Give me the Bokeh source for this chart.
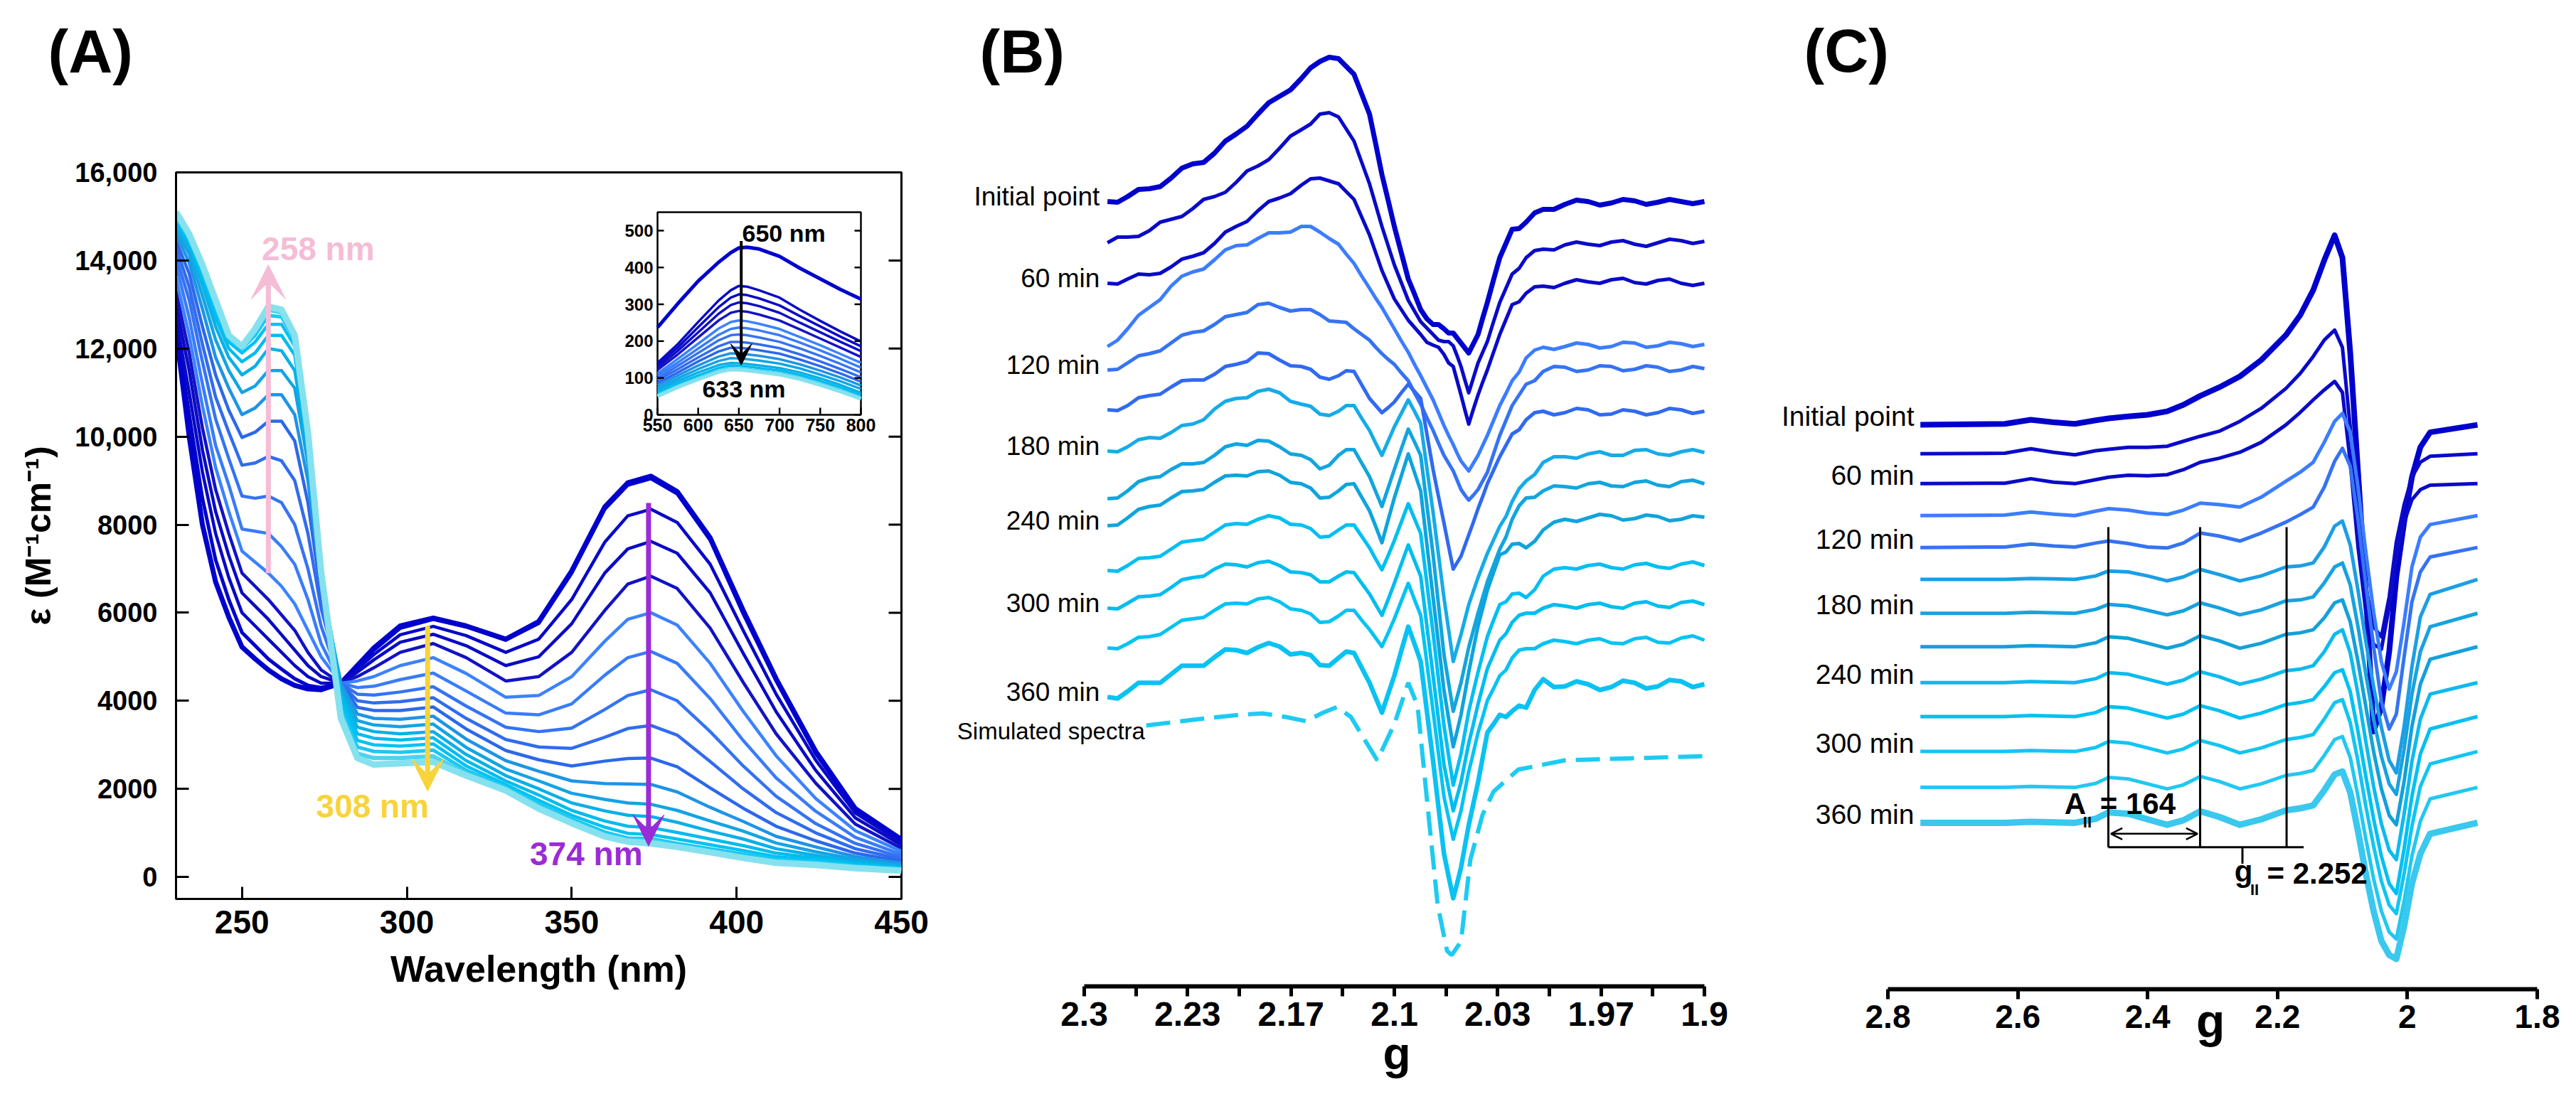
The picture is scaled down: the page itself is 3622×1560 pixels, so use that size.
from bokeh.plotting import figure
from bokeh.layouts import row, column
from bokeh.models import (Range1d, FixedTicker, CustomJSTickFormatter,
                          Label, Arrow, VeeHead, OpenHead)
from bokeh.embed import file_html
from bokeh.resources import INLINE
from bokeh.core.properties import value

FONT = "Liberation Sans"

# ======================= Panel A : UV-vis spectra =======================
wavelength_nm = [230, 234, 238, 242, 246, 250, 254, 258, 262, 266, 270, 274, 280, 285, 290,
                 298, 308, 318, 330, 340, 350, 360, 367, 374, 382, 392, 402, 412, 424, 436, 450]
# epsilon (M-1 cm-1) at each wavelength for the 18 successive spectra (first -> last)
eps_230 = [12400, 12500, 12700, 13000, 13300, 13600, 13900, 14100, 14300, 14450, 14600, 14700, 14800, 14900, 14950, 15000, 15050, 15100]
eps_234 = [10000, 10500, 11000, 11500, 11900, 12300, 12700, 13100, 13400, 13700, 13950, 14150, 14300, 14400, 14450, 14500, 14550, 14600]
eps_238 = [8000, 8600, 9200, 9700, 10200, 10700, 11200, 11700, 12100, 12500, 12900, 13200, 13450, 13600, 13700, 13800, 13850, 13900]
eps_242 = [6700, 7200, 7800, 8300, 8800, 9300, 9800, 10400, 10900, 11400, 11800, 12200, 12500, 12700, 12850, 12950, 13050, 13100]
eps_246 = [5900, 6300, 6800, 7300, 7800, 8300, 8900, 9500, 10100, 10600, 11100, 11500, 11800, 12000, 12150, 12250, 12300, 12300]
eps_250 = [5220, 5550, 6000, 6450, 6900, 7400, 7900, 8650, 9350, 9980, 10500, 11000, 11400, 11700, 11900, 12000, 12050, 12050]
eps_254 = [4950, 5250, 5700, 6150, 6600, 7150, 7850, 8600, 9400, 10100, 10650, 11150, 11600, 11900, 12150, 12300, 12400, 12450]
eps_258 = [4700, 4950, 5400, 5850, 6300, 6900, 7800, 8650, 9550, 10350, 10950, 11500, 12000, 12300, 12550, 12750, 12880, 12950]
eps_262 = [4500, 4720, 5100, 5500, 5950, 6600, 7500, 8500, 9450, 10350, 10950, 11500, 11950, 12300, 12550, 12720, 12820, 12880]
eps_266 = [4350, 4500, 4800, 5150, 5600, 6200, 7100, 8000, 9000, 9900, 10500, 11100, 11500, 11850, 12050, 12200, 12250, 12300]
eps_270 = [4270, 4350, 4550, 4800, 5100, 5600, 6300, 7000, 7800, 8500, 9000, 9400, 9700, 9850, 9950, 10000, 10050, 10100]
eps_274 = [4250, 4300, 4400, 4550, 4700, 5000, 5300, 5700, 6100, 6400, 6650, 6800, 6900, 6950, 6950, 6950, 6950, 6930]
eps_280 = [4400, 4400, 4400, 4400, 4400, 4400, 4400, 4400, 4400, 4400, 4400, 4300, 4200, 4100, 3950, 3800, 3700, 3600]
eps_285 = [4800, 4780, 4720, 4650, 4550, 4450, 4300, 4150, 4000, 3850, 3700, 3550, 3400, 3250, 3100, 2950, 2800, 2700]
eps_290 = [5200, 5150, 5050, 4930, 4750, 4550, 4330, 4130, 3950, 3780, 3600, 3450, 3300, 3150, 3000, 2850, 2700, 2550]
eps_298 = [5700, 5650, 5500, 5330, 5100, 4800, 4480, 4200, 3980, 3780, 3580, 3410, 3250, 3110, 2970, 2830, 2700, 2580]
eps_308 = [5880, 5850, 5690, 5510, 5300, 4980, 4630, 4320, 4070, 3860, 3650, 3470, 3300, 3160, 3020, 2880, 2740, 2610]
eps_318 = [5700, 5680, 5480, 5250, 4980, 4620, 4220, 3880, 3600, 3360, 3130, 2940, 2780, 2640, 2520, 2420, 2350, 2300]
eps_330 = [5400, 5380, 5100, 4800, 4450, 4080, 3720, 3400, 3120, 2870, 2640, 2450, 2300, 2180, 2100, 2040, 2000, 1960]
eps_340 = [5800, 5760, 5400, 5000, 4550, 4120, 3680, 3300, 2950, 2660, 2400, 2180, 2000, 1860, 1740, 1660, 1600, 1550]
eps_350 = [6950, 6900, 6300, 5750, 5100, 4550, 3930, 3380, 2920, 2520, 2180, 1900, 1680, 1510, 1400, 1320, 1260, 1220]
eps_360 = [8400, 8350, 7600, 6900, 6050, 5350, 4580, 3800, 3170, 2630, 2120, 1760, 1500, 1270, 1130, 1020, 950, 920]
eps_367 = [8950, 8900, 8200, 7450, 6650, 5850, 4980, 4120, 3370, 2690, 2110, 1680, 1400, 1150, 990, 880, 830, 800]
eps_374 = [9100, 9050, 8350, 7620, 6830, 6000, 5120, 4250, 3440, 2700, 2100, 1650, 1370, 1120, 960, 870, 820, 760]
eps_382 = [8750, 8700, 8050, 7350, 6550, 5720, 4850, 4000, 3220, 2500, 1930, 1510, 1240, 1010, 860, 760, 700, 680]
eps_392 = [7700, 7650, 7100, 6450, 5650, 4850, 4050, 3300, 2620, 2020, 1580, 1270, 1040, 860, 730, 640, 570, 560]
eps_402 = [6050, 5980, 5600, 5080, 4420, 3760, 3100, 2520, 2000, 1560, 1260, 1040, 860, 710, 600, 520, 450, 430]
eps_412 = [4500, 4450, 4150, 3750, 3250, 2750, 2250, 1830, 1460, 1150, 920, 770, 640, 540, 460, 400, 350, 320]
eps_424 = [2850, 2800, 2650, 2420, 2130, 1780, 1490, 1210, 1000, 820, 680, 570, 490, 430, 380, 340, 300, 270]
eps_436 = [1550, 1530, 1450, 1340, 1200, 1050, 900, 760, 640, 540, 460, 400, 350, 310, 280, 250, 220, 200]
eps_450 = [850, 840, 780, 720, 650, 580, 510, 450, 400, 350, 310, 270, 240, 210, 190, 170, 155, 140]

eps_columns = [eps_230, eps_234, eps_238, eps_242, eps_246, eps_250, eps_254, eps_258, eps_262,
               eps_266, eps_270, eps_274, eps_280, eps_285, eps_290, eps_298, eps_308, eps_318,
               eps_330, eps_340, eps_350, eps_360, eps_367, eps_374, eps_382, eps_392, eps_402,
               eps_412, eps_424, eps_436, eps_450]
assert len(eps_columns) == len(wavelength_nm)
for c in eps_columns:
    assert len(c) == 18, c

A_colors = ["#0000CD", "#0000CD", "#0808C8", "#0A0AC4", "#1212C6", "#3C82FF", "#397CFA", "#3573F3",
            "#316CEE", "#2C68EA", "#1E94E6", "#13A4E3", "#0BAFE7", "#02BBEE", "#00C2F2", "#1CC8F2",
            "#4ED2F0", "#86E1EE"]
A_widths = [7, 5, 4.5, 4.5, 4.5, 4.5, 4.5, 4.5, 4.5, 4.5, 4.5, 4.5, 4.5, 4.5, 4.5, 5, 6, 9]

# inset (550-800 nm)
inset_nm = [550, 575, 600, 625, 640, 650, 660, 675, 700, 725, 750, 775, 800]
inset_00 = [237, 302, 363, 414, 440, 453, 455, 450, 430, 398, 369, 340, 314]
inset_01 = [141, 192, 252, 310, 338, 350, 348, 338, 318, 285, 255, 226, 199]
inset_02 = [135, 183, 238, 292, 318, 327, 325, 316, 297, 268, 240, 212, 186]
inset_03 = [128, 174, 224, 274, 298, 305, 303, 295, 277, 250, 224, 198, 173]
inset_04 = [122, 164, 210, 256, 277, 282, 280, 272, 256, 232, 207, 182, 157]
inset_05 = [112, 152, 193, 234, 252, 256, 254, 247, 233, 211, 189, 165, 141]
inset_06 = [106, 142, 180, 217, 233, 237, 235, 229, 216, 196, 175, 152, 128]
inset_07 = [99, 133, 168, 202, 216, 218, 216, 210, 198, 180, 160, 138, 115]
inset_08 = [93, 124, 156, 186, 198, 198, 196, 191, 181, 164, 145, 124, 102]
inset_09 = [86, 115, 145, 172, 182, 182, 180, 175, 166, 150, 132, 112, 90]
inset_10 = [80, 107, 134, 158, 167, 166, 164, 160, 151, 137, 120, 101, 80]
inset_11 = [73, 99, 124, 146, 154, 153, 151, 147, 139, 126, 109, 91, 70]
inset_12 = [67, 92, 115, 135, 141, 140, 138, 134, 127, 115, 99, 81, 60]
inset_13 = [60, 85, 107, 127, 134, 133, 131, 127, 120, 108, 92, 74, 54]
inset_14 = [54, 79, 100, 120, 127, 126, 124, 120, 113, 101, 85, 67, 47]
inset_15 = [50, 75, 96, 116, 123, 122, 120, 116, 109, 97, 81, 63, 43]
inset_curves = [inset_00, inset_01, inset_02, inset_03, inset_04, inset_05, inset_06, inset_07,
                inset_08, inset_09, inset_10, inset_11, inset_12, inset_13, inset_14, inset_15]
inset_colors = ["#0000CD", "#0A0AC8", "#0A0AC8", "#0E0EC6", "#1414C4", "#3C82FF", "#397CFA", "#3573F3",
                "#316CEE", "#2C68EA", "#1E94E6", "#13A4E3", "#0BAFE7", "#02BBEE", "#4ED2F0", "#86E1EE"]
inset_xticks = [550, 600, 650, 700, 750, 800]
inset_yticks = [0, 100, 200, 300, 400, 500]

A_xticks = [250, 300, 350, 400, 450]
A_yticks = [0, 2000, 4000, 6000, 8000, 10000, 12000, 14000, 16000]

# ======================= Panel B : EPR (experimental, noisy) =======================
g_B = [2.285, 2.2785, 2.272, 2.265, 2.258, 2.251, 2.244, 2.237, 2.230, 2.223, 2.216, 2.209,
       2.202, 2.195, 2.188, 2.181, 2.174, 2.167, 2.160, 2.154, 2.148, 2.142, 2.136, 2.131,
       2.126, 2.121, 2.116, 2.112, 2.108, 2.104, 2.100, 2.0955, 2.091, 2.087, 2.083, 2.079,
       2.075, 2.0715, 2.068, 2.065, 2.062, 2.0595, 2.057, 2.0545, 2.052, 2.049, 2.046, 2.043,
       2.040, 2.036, 2.032, 2.028, 2.024, 2.0195, 2.015, 2.0095, 2.004, 1.997, 1.990, 1.9825,
       1.975, 1.9675, 1.960, 1.9525, 1.945, 1.9375, 1.930, 1.9225, 1.915, 1.9075, 1.900]
# stacked derivative signals (offset included, arbitrary units, plotted downward-positive)
epr_B_000 = [283, 284, 276, 266, 265, 262, 250, 236, 230, 228, 215, 198, 188, 177, 160, 144, 135, 126, 110, 95, 86, 80, 82, 93, 104, 132, 160, 202, 245, 281, 318, 355, 392, 413, 435, 448, 456, 456, 462, 468, 468, 475, 482, 489, 496, 483, 470, 447, 425, 393, 362, 342, 322, 321, 312, 299, 294, 294, 287, 281, 283, 288, 285, 280, 282, 287, 284, 280, 283, 286, 283]
epr_B_030 = [341, 333, 333, 332, 324, 312, 308, 304, 293, 280, 276, 270, 256, 240, 233, 224, 208, 191, 182, 174, 160, 158, 164, 181, 198, 228, 258, 288, 318, 345, 372, 397, 422, 437, 452, 461, 470, 478, 480, 480, 486, 500, 515, 534, 552, 531, 510, 495, 480, 452, 425, 405, 385, 377, 362, 352, 350, 351, 344, 340, 343, 345, 340, 338, 343, 346, 341, 336, 338, 342, 339]
epr_B_060 = [398, 399, 392, 385, 386, 384, 375, 364, 360, 355, 342, 326, 318, 311, 296, 283, 278, 272, 260, 251, 250, 254, 258, 269, 280, 305, 330, 355, 380, 400, 420, 435, 450, 460, 470, 481, 485, 488, 498, 510, 515, 535, 555, 576, 596, 575, 555, 537, 520, 495, 470, 449, 428, 424, 412, 403, 402, 404, 398, 393, 396, 398, 393, 391, 397, 399, 394, 392, 398, 401, 398]
epr_B_090 = [487, 478, 462, 443, 432, 421, 402, 388, 382, 378, 365, 351, 345, 344, 335, 327, 327, 326, 318, 318, 326, 335, 343, 357, 370, 388, 405, 419, 432, 447, 462, 479, 495, 512, 528, 545, 562, 580, 598, 612, 625, 637, 648, 655, 662, 651, 640, 626, 612, 591, 570, 553, 535, 523, 503, 492, 488, 491, 487, 482, 484, 489, 487, 481, 482, 488, 486, 481, 483, 487, 484]
epr_B_120 = [520, 519, 510, 500, 497, 493, 482, 471, 467, 465, 456, 445, 442, 439, 428, 426, 432, 437, 435, 435, 442, 451, 452, 453, 462, 470, 478, 488, 497, 505, 512, 524, 535, 552, 568, 587, 605, 623, 640, 651, 662, 675, 688, 696, 703, 696, 688, 676, 664, 638, 612, 591, 570, 555, 540, 535, 522, 515, 516, 522, 520, 514, 515, 521, 519, 514, 516, 522, 520, 515, 518]
epr_B_150 = [576, 577, 570, 559, 556, 554, 544, 535, 534, 534, 526, 515, 512, 508, 496, 497, 506, 514, 515, 519, 530, 533, 528, 521, 522, 541, 560, 570, 580, 573, 565, 552, 540, 550, 560, 610, 660, 698, 735, 768, 800, 791, 782, 767, 752, 734, 715, 698, 680, 661, 642, 626, 610, 604, 590, 580, 578, 583, 580, 574, 576, 583, 582, 576, 578, 583, 580, 574, 576, 581, 578]
epr_B_180 = [634, 635, 628, 618, 615, 616, 608, 598, 596, 590, 575, 564, 560, 559, 550, 547, 552, 564, 568, 571, 582, 584, 578, 570, 570, 588, 605, 623, 640, 620, 600, 581, 562, 578, 595, 658, 720, 780, 840, 885, 930, 911, 892, 871, 850, 831, 812, 795, 778, 759, 740, 726, 705, 687, 676, 667, 650, 642, 642, 644, 638, 635, 640, 640, 633, 632, 638, 640, 635, 632, 636]
epr_B_210 = [701, 700, 690, 677, 672, 670, 660, 652, 652, 650, 640, 628, 624, 626, 619, 620, 628, 638, 640, 646, 659, 654, 640, 632, 632, 651, 670, 691, 712, 686, 660, 631, 603, 621, 640, 710, 780, 850, 920, 960, 1000, 980, 960, 935, 910, 886, 862, 840, 818, 795, 772, 755, 730, 711, 700, 699, 690, 683, 684, 686, 680, 678, 683, 684, 678, 676, 682, 684, 677, 675, 680]
epr_B_240 = [739, 738, 728, 716, 712, 710, 700, 691, 690, 688, 678, 669, 668, 669, 663, 662, 668, 678, 680, 686, 700, 699, 690, 681, 680, 699, 718, 740, 763, 731, 700, 669, 638, 664, 690, 765, 840, 905, 970, 1010, 1050, 1028, 1005, 975, 945, 912, 880, 855, 830, 805, 780, 776, 765, 764, 770, 761, 745, 734, 730, 733, 728, 723, 725, 731, 729, 724, 726, 732, 730, 725, 727]
epr_B_270 = [802, 803, 795, 785, 784, 782, 772, 762, 760, 758, 748, 738, 736, 737, 730, 725, 728, 737, 738, 743, 755, 754, 745, 738, 738, 754, 770, 786, 801, 781, 760, 734, 708, 729, 750, 820, 890, 955, 1020, 1062, 1104, 1082, 1060, 1030, 1000, 972, 945, 920, 895, 872, 850, 846, 835, 834, 840, 829, 810, 800, 798, 800, 795, 793, 798, 800, 794, 792, 797, 799, 793, 790, 795]
epr_B_300 = [855, 856, 848, 839, 838, 836, 826, 815, 812, 810, 800, 793, 794, 797, 791, 789, 795, 804, 805, 808, 818, 818, 810, 804, 805, 820, 835, 850, 865, 843, 820, 793, 766, 788, 810, 880, 950, 1012, 1075, 1108, 1140, 1120, 1100, 1072, 1045, 1018, 990, 965, 940, 920, 900, 891, 875, 865, 862, 862, 855, 850, 852, 855, 850, 848, 853, 855, 848, 846, 852, 854, 847, 845, 850]
epr_B_330 = [911, 912, 905, 896, 895, 892, 882, 872, 870, 868, 858, 849, 848, 849, 842, 840, 846, 856, 858, 863, 875, 874, 866, 858, 858, 872, 885, 897, 909, 890, 870, 845, 820, 843, 865, 932, 1000, 1060, 1120, 1150, 1180, 1160, 1140, 1112, 1085, 1058, 1030, 1008, 985, 968, 950, 942, 925, 914, 912, 912, 905, 900, 902, 905, 900, 898, 904, 905, 898, 896, 903, 904, 897, 894, 900]
epr_B_360 = [980, 982, 972, 960, 960, 960, 948, 936, 936, 936, 924, 913, 914, 918, 910, 904, 909, 920, 918, 921, 935, 936, 925, 916, 918, 939, 960, 981, 1002, 976, 950, 915, 881, 905, 930, 1000, 1070, 1135, 1200, 1232, 1263, 1242, 1220, 1190, 1160, 1130, 1100, 1065, 1030, 1018, 1005, 1008, 1000, 992, 995, 970, 955, 966, 965, 958, 962, 970, 966, 957, 960, 968, 965, 956, 958, 966, 962]
B_curves = [epr_B_000, epr_B_030, epr_B_060, epr_B_090, epr_B_120, epr_B_150, epr_B_180,
            epr_B_210, epr_B_240, epr_B_270, epr_B_300, epr_B_330, epr_B_360]
assert len(g_B) == 71
for c in B_curves:
    assert len(c) == len(g_B), (len(c), c[:3])
B_colors = ["#0000CD", "#0A0AC8", "#0A0AC8", "#3C7DFF", "#3673F3", "#316AF0", "#16ABE8", "#12A5DE",
            "#0FA4DC", "#00BFF2", "#00BDEF", "#06C3F3", "#0AC2F2"]
B_widths = [7, 5, 5, 5, 5, 5, 5, 5, 5, 5, 5, 5, 6.5]

g_sim = [2.260, 2.230, 2.200, 2.185, 2.170, 2.157, 2.146, 2.137, 2.128, 2.120, 2.111, 2.100, 2.091,
         2.085, 2.078, 2.072, 2.066, 2.063, 2.057, 2.051, 2.043, 2.036, 2.020, 1.990, 1.944, 1.899]
epr_sim = [1020, 1012, 1005, 1003, 1008, 1014, 1002, 994, 1008, 1037, 1069, 1018, 960,
           992, 1145, 1273, 1337, 1343, 1324, 1209, 1145, 1113, 1082, 1069, 1066, 1063]
assert len(g_sim) == len(epr_sim)

time_labels = ["Initial point", "60 min", "120 min", "180 min", "240 min", "300 min", "360 min"]
B_ticks = [2.3, 2.23333, 2.16667, 2.1, 2.03333, 1.96667, 1.9]
B_minor = [2.26667, 2.2, 2.13333, 2.06667, 2.0, 1.93333]

# ======================= Panel C : EPR (frozen solution) =======================
g_C = [2.750, 2.620, 2.580, 2.545, 2.512, 2.480, 2.460, 2.430, 2.400, 2.370, 2.345, 2.319,
       2.290, 2.258, 2.225, 2.187, 2.165, 2.145, 2.128, 2.112, 2.100, 2.088, 2.076, 2.064,
       2.052, 2.040, 2.028, 2.017, 2.005, 1.993, 1.980, 1.965, 1.892]
epr_C_000 = [395, 393, 385, 390, 393, 386, 382, 378, 375, 368, 355, 337, 320, 298, 265, 215, 175, 125, 65, 15, 60, 250, 490, 730, 1010, 960, 850, 700, 590, 500, 440, 410, 395]
epr_C_030 = [453, 452, 443, 450, 455, 447, 444, 440, 440, 438, 428, 418, 408, 388, 362, 322, 292, 258, 225, 205, 240, 400, 580, 720, 800, 820, 740, 630, 555, 500, 470, 458, 453]
epr_C_060 = [513, 512, 503, 510, 513, 505, 500, 496, 497, 495, 485, 470, 462, 450, 430, 395, 370, 345, 325, 308, 330, 470, 640, 770, 835, 845, 760, 660, 590, 545, 525, 516, 513]
epr_C_090 = [577, 576, 570, 574, 577, 568, 563, 566, 572, 575, 566, 552, 555, 560, 540, 508, 490, 470, 430, 388, 372, 410, 520, 650, 770, 870, 925, 890, 790, 680, 620, 595, 577]
epr_C_120 = [641, 640, 634, 638, 640, 632, 628, 633, 640, 642, 632, 612, 618, 628, 612, 590, 575, 560, 520, 468, 442, 478, 585, 715, 840, 950, 1005, 975, 860, 750, 690, 660, 641]
epr_C_150 = [705, 705, 703, 704, 705, 698, 688, 690, 698, 708, 700, 685, 695, 708, 698, 680, 678, 672, 640, 598, 588, 636, 727, 829, 920, 1002, 1068, 1093, 1000, 880, 780, 735, 705]
epr_C_180 = [773, 773, 771, 772, 773, 765, 755, 758, 767, 776, 768, 752, 762, 776, 766, 748, 746, 740, 712, 680, 672, 716, 800, 895, 985, 1060, 1115, 1136, 1045, 935, 850, 800, 773]
epr_C_210 = [840, 840, 838, 839, 840, 832, 820, 823, 833, 843, 835, 818, 828, 843, 833, 815, 812, 806, 782, 752, 746, 790, 870, 960, 1050, 1125, 1178, 1197, 1110, 1000, 915, 865, 840]
epr_C_240 = [912, 912, 910, 911, 912, 904, 892, 895, 905, 915, 907, 890, 900, 915, 905, 888, 885, 878, 850, 815, 806, 852, 935, 1030, 1120, 1195, 1248, 1267, 1175, 1070, 985, 935, 912]
epr_C_270 = [980, 980, 978, 979, 980, 972, 960, 963, 973, 983, 975, 958, 968, 983, 973, 956, 952, 946, 920, 892, 886, 930, 1010, 1100, 1185, 1260, 1315, 1335, 1245, 1140, 1055, 1005, 980]
epr_C_300 = [1050, 1050, 1048, 1049, 1050, 1042, 1030, 1033, 1043, 1053, 1045, 1028, 1038, 1053, 1043, 1026, 1022, 1016, 985, 952, 946, 992, 1070, 1160, 1240, 1310, 1358, 1375, 1295, 1200, 1120, 1075, 1050]
epr_C_330 = [1122, 1122, 1120, 1121, 1122, 1114, 1102, 1105, 1115, 1125, 1117, 1100, 1110, 1125, 1115, 1098, 1094, 1088, 1058, 1026, 1020, 1062, 1140, 1225, 1305, 1370, 1412, 1426, 1350, 1260, 1190, 1145, 1122]
epr_C_360 = [1193, 1193, 1191, 1192, 1193, 1185, 1172, 1175, 1186, 1197, 1188, 1170, 1181, 1197, 1186, 1168, 1164, 1158, 1128, 1096, 1090, 1132, 1210, 1295, 1370, 1430, 1458, 1466, 1400, 1315, 1255, 1215, 1193]
C_curves = [epr_C_000, epr_C_030, epr_C_060, epr_C_090, epr_C_120, epr_C_150, epr_C_180,
            epr_C_210, epr_C_240, epr_C_270, epr_C_300, epr_C_330, epr_C_360]
for c in C_curves:
    assert len(c) == len(g_C), c
C_colors = ["#0000CD", "#0A0AC8", "#0A0AC8", "#3C7DFF", "#3673F3", "#1C9EE4", "#18A2DF", "#14A0DA",
            "#0DBAEE", "#00C0F2", "#12C5F2", "#22C8F0", "#3AC8EE"]
C_widths = [8, 5, 5, 5, 5, 5, 5, 5, 5, 5, 5, 5, 9]
C_ticks = [2.8, 2.6, 2.4, 2.2, 2.0, 1.8]
hyperfine_g = [2.4605, 2.3192, 2.186]   # A|| lines
g_parallel = 2.254
A_parallel = 164

fmt = CustomJSTickFormatter(code="return String(Math.round(tick*100)/100);")
NBSP = "\u00a0"


def base_fig(w, h, xr, yr, bl, br, bt, bb):
    p = figure(width=w, height=h, x_range=xr, y_range=yr, output_backend="svg",
               toolbar_location=None, min_border_left=bl, min_border_right=br,
               min_border_top=bt, min_border_bottom=bb)
    p.frame_align = False
    p.xgrid.visible = False
    p.ygrid.visible = False
    p.background_fill_color = "white"
    p.border_fill_color = "white"
    return p


def lbl(p, x, y, text, size, color="black", style="bold", align="left", baseline="middle", **kw):
    p.add_layout(Label(x=x, y=y, text=text, text_font=FONT, text_font_size=size,
                       text_font_style=style, text_color=color, text_align=align,
                       text_baseline=baseline, **kw))


def style_axis(ax, label_size):
    ax.major_label_text_font = FONT
    ax.major_label_text_font_style = "bold"
    ax.major_label_text_font_size = label_size
    ax.major_label_text_color = "black"
    ax.axis_label_text_font = FONT
    ax.axis_label_text_font_style = "bold"
    ax.axis_label_text_color = "black"
    ax.axis_line_color = "black"
    ax.major_tick_line_color = "black"


# ---------------- Figure A (top strip holding the panel letter + main plot) ----------------
strip_h = 140
pA_top = base_fig(1320, strip_h, Range1d(0, 1320), Range1d(strip_h, 0), 0, 0, 0, 0)
pA_top.axis.visible = False
pA_top.outline_line_color = None
lbl(pA_top, 67, 71, "(A)", "86px")

pA = base_fig(1320, 1560 - strip_h, Range1d(230, 450), Range1d(-500, 16000), 247, 53, 242 - strip_h, 296)
pA.outline_line_color = "black"
pA.outline_line_width = 3

xa = pA.xaxis[0]
style_axis(xa, "46px")
xa.ticker = FixedTicker(ticks=A_xticks)
xa.major_tick_in = 17
xa.major_tick_out = 0
xa.minor_tick_line_color = None
xa.major_tick_line_width = 3
xa.axis_line_width = 3
xa.major_label_standoff = 16
xa.axis_label = "Wavelength (nm)"
xa.axis_label_text_font_size = "52px"
xa.axis_label_standoff = 18

ya = pA.yaxis[0]
style_axis(ya, "38px")
ya.ticker = FixedTicker(ticks=A_yticks)
ya.major_label_overrides = {16000: "16,000", 14000: "14,000", 12000: "12,000", 10000: "10,000"}
ya.major_tick_in = 18
ya.major_tick_out = 0
ya.minor_tick_line_color = None
ya.major_tick_line_width = 3
ya.axis_line_width = 3
ya.major_label_standoff = 26
ya.axis_label = "\u03b5 (M\u207b\u00b9cm\u207b\u00b9)"
ya.axis_label_text_font_size = "50px"
ya.axis_label_standoff = 20

# mirrored ticks on the right edge of panel A (inside)
A_px_per_nm = 1020 / 220.0
pA.segment(x0=[450] * len(A_yticks), y0=A_yticks, x1=[450 - 18 / A_px_per_nm] * len(A_yticks),
           y1=A_yticks, line_color="black", line_width=3)

spectra = [[col[i] for col in eps_columns] for i in range(18)]
for i, s in enumerate(spectra):
    pA.line(wavelength_nm, s, line_color=A_colors[i], line_width=A_widths[i], line_join="round")

# arrows of panel A
pA.add_layout(Arrow(x_start=258, y_start=6900, x_end=258, y_end=13900, line_color="#F5BCD6",
                    line_width=7, end=VeeHead(size=48, fill_color="#F5BCD6", line_color="#F5BCD6")))
pA.add_layout(Arrow(x_start=306.3, y_start=5700, x_end=306.3, y_end=1950, line_color="#F8D33A",
                    line_width=7, end=VeeHead(size=46, fill_color="#F8D33A", line_color="#F8D33A")))
pA.add_layout(Arrow(x_start=373.3, y_start=8494, x_end=373.3, y_end=702, line_color="#9A2BD6",
                    line_width=7, end=VeeHead(size=44, fill_color="#9A2BD6", line_color="#9A2BD6")))
lbl(pA, 256, 14270, "258 nm", "46px", color="#F5BCD6")
lbl(pA, 289.6, 1600, "308 nm", "46px", color="#F8D33A", align="center")
lbl(pA, 371.5, 527, "374 nm", "46px", color="#9A2BD6", align="right")

# inset placed through extra ranges (pixel box inside the 1020 x 1022 frame)
frame_w, frame_h = 1020, 1022
inset_left_px, inset_right_px = 677, 963
inset_bottom_px, inset_top_px = 681, 966
ux = (inset_nm[-1] - inset_nm[0]) / (inset_right_px - inset_left_px)
uy = 550.0 / (inset_top_px - inset_bottom_px)
ix0 = inset_nm[0] - inset_left_px * ux
iy0 = 0 - inset_bottom_px * uy
pA.extra_x_ranges = {"ix": Range1d(ix0, ix0 + frame_w * ux)}
pA.extra_y_ranges = {"iy": Range1d(iy0, iy0 + frame_h * uy)}
IN = dict(x_range_name="ix", y_range_name="iy")
pA.quad(left=[inset_nm[0]], right=[inset_nm[-1]], bottom=[0], top=[550], fill_color="white",
        line_color="black", line_width=2.5, **IN)
for i, c in enumerate(inset_curves):
    pA.line(inset_nm, c, line_color=inset_colors[i], line_width=5 if i in (0, 15) else 3.5, **IN)
tl_x, tl_y = 9 * ux, 10 * uy
pA.segment(x0=[inset_nm[0]] * 6, y0=inset_yticks, x1=[inset_nm[0] + tl_x] * 6, y1=inset_yticks,
           line_color="black", line_width=2.5, **IN)
pA.segment(x0=[inset_nm[-1]] * 6, y0=inset_yticks, x1=[inset_nm[-1] - tl_x] * 6, y1=inset_yticks,
           line_color="black", line_width=2.5, **IN)
pA.segment(x0=inset_xticks, y0=[0] * 6, x1=inset_xticks, y1=[tl_y] * 6,
           line_color="black", line_width=2.5, **IN)
pA.text(x=[inset_nm[0] - 6 * ux] * 6, y=inset_yticks, text=[str(t) for t in inset_yticks],
        text_font=value(FONT), text_font_style="bold", text_font_size="24px",
        text_align="right", text_baseline="middle", **IN)
pA.text(x=inset_xticks, y=[-5 * uy] * 6, text=[str(t) for t in inset_xticks],
        text_font=value(FONT), text_font_style="bold", text_font_size="25px",
        text_align="center", text_baseline="top", **IN)
pA.add_layout(Arrow(x_start=652.9, y_start=472, x_end=652.9, y_end=135, line_color="black",
                    line_width=4, end=VeeHead(size=30, fill_color="black", line_color="black"), **IN))
lbl(pA, 654, 494, "650 nm", "34px", **IN)
lbl(pA, 605, 70, "633 nm", "34px", **IN)

# ---------------- Figure B ----------------
# frame spans page x 1325..2460 and y 5..1387; axis drawn only over g = 2.3 .. 1.9
pB = base_fig(1150, 1560, Range1d(2.39128, 1.87064), Range1d(1387, 5), 5, 10, 5, 173)
pB.outline_line_color = None
pB.yaxis.visible = False
xb = pB.xaxis[0]
style_axis(xb, "48px")
xb.bounds = (1.9, 2.3)
xb.ticker = FixedTicker(ticks=B_ticks, minor_ticks=B_minor)
xb.formatter = fmt
xb.major_tick_in = 0
xb.major_tick_out = 14
xb.minor_tick_in = 0
xb.minor_tick_out = 14
xb.major_tick_line_width = 5
xb.minor_tick_line_width = 5
xb.minor_tick_line_color = "black"
xb.axis_line_width = 6
xb.major_label_standoff = 8
# the label is centred on the frame; leading no-break spaces shift it to the centre of the g scale
xb.axis_label = NBSP * 8 + "g"
xb.axis_label_text_font_size = "64px"
xb.axis_label_standoff = 0

for i, c in enumerate(B_curves):
    pB.line(g_B, c, line_color=B_colors[i], line_width=B_widths[i], line_join="round")
pB.line(g_sim, epr_sim, line_color="#1ECBF2", line_width=6, line_dash="34 14")
for k, t in enumerate(time_labels):
    lbl(pB, g_B[0] + 0.005, B_curves[2 * k][0] - 7, t, "37px", style="normal", align="right")
lbl(pB, g_sim[0] + 0.0008, epr_sim[0] + 8, "Simulated spectra", "33px", style="normal", align="right")
lbl(pB, 2.3674, 71, "(B)", "86px")

# ---------------- Figure C ----------------
# frame spans page x 2475..3612 and y 5..1391; axis drawn only over g = 2.8 .. 1.8
pC = base_fig(1152, 1560, Range1d(2.99606, 1.75071), Range1d(1526.7, -449.0), 5, 10, 5, 169)
pC.outline_line_color = None
pC.yaxis.visible = False
xc = pC.xaxis[0]
style_axis(xc, "46px")
xc.bounds = (1.8, 2.8)
xc.ticker = FixedTicker(ticks=C_ticks)
xc.formatter = fmt
xc.major_tick_in = 0
xc.major_tick_out = 14
xc.minor_tick_line_color = None
xc.major_tick_line_width = 5
xc.axis_line_width = 6
xc.major_label_standoff = 8
xc.axis_label = NBSP * 7 + "g"
xc.axis_label_text_font_size = "66px"
xc.axis_label_standoff = -50

for i, c in enumerate(C_curves):
    pC.line(g_C, c, line_color=C_colors[i], line_width=C_widths[i], line_join="round")
for k, t in enumerate(time_labels):
    lbl(pC, g_C[0] + 0.0095, C_curves[2 * k][0] - 17, t, "39px", style="normal", align="right")

hf_top, hf_bottom = 600, 1242
pC.segment(x0=hyperfine_g, y0=[hf_top] * 3, x1=hyperfine_g, y1=[hf_bottom] * 3,
           line_color="black", line_width=3)
pC.segment(x0=[hyperfine_g[0]], y0=[hf_bottom], x1=[2.1597], y1=[hf_bottom],
           line_color="black", line_width=3)
pC.segment(x0=[g_parallel], y0=[hf_bottom], x1=[g_parallel], y1=[hf_bottom + 33],
           line_color="black", line_width=3)
pC.add_layout(Arrow(x_start=hyperfine_g[0] - 0.004, y_start=1215, x_end=hyperfine_g[1] + 0.004,
                    y_end=1215, line_color="black", line_width=2.5,
                    start=OpenHead(size=16, line_width=2.5), end=OpenHead(size=16, line_width=2.5)))
lbl(pC, 2.528, 1155, "A", "42px")
lbl(pC, 2.4995, 1192, "II", "22px")
lbl(pC, 2.4733, 1155, "= %d" % A_parallel, "42px")
lbl(pC, 2.2664, 1290, "g", "42px")
lbl(pC, 2.2420, 1327, "II", "22px")
lbl(pC, 2.2162, 1295, "= 2.252", "42px")
lbl(pC, 2.9292, -355, "(C)", "86px")

layout = row(column(pA_top, pA), pB, pC)
open("out.html", "w").write(file_html(layout, INLINE))
